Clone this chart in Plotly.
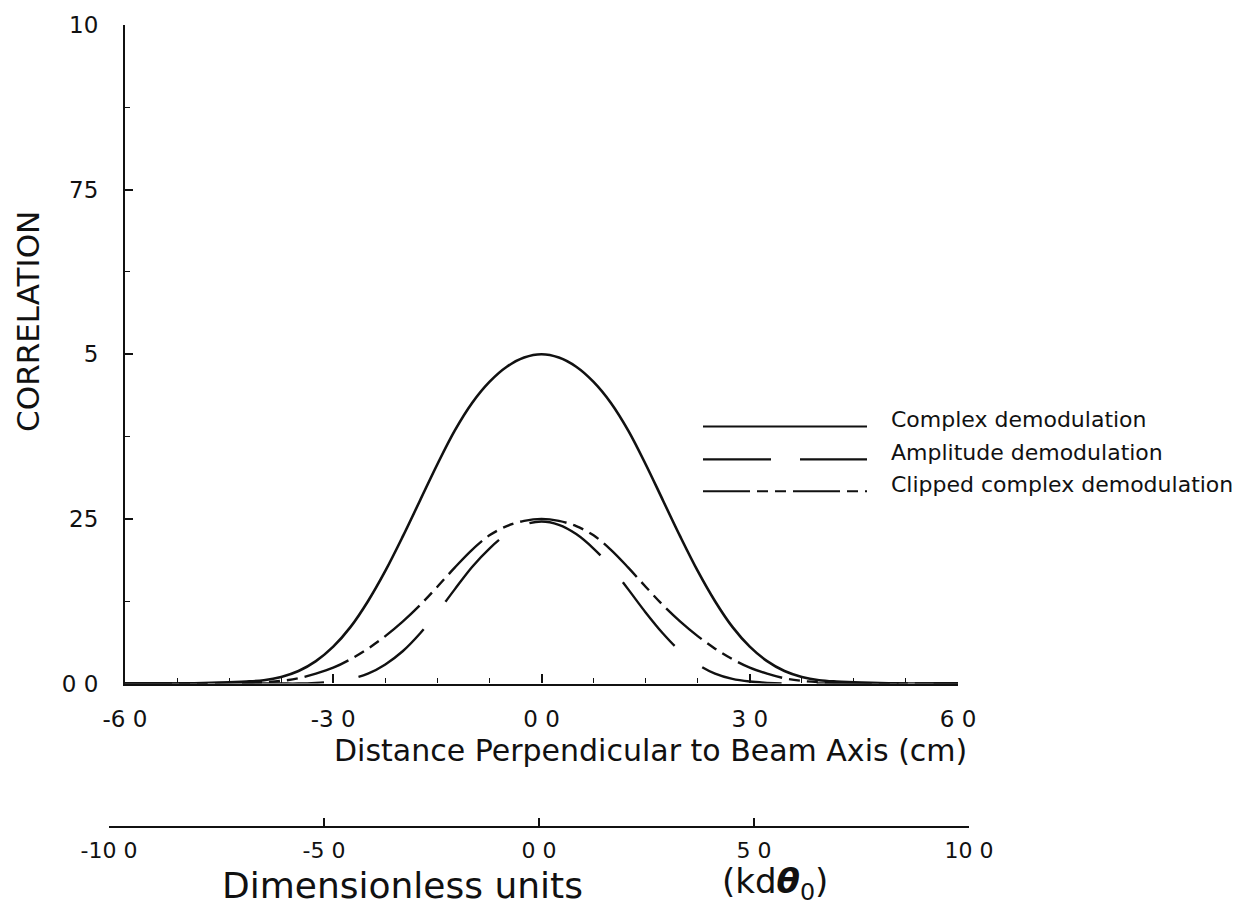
import plotly.graph_objects as go

# ---------------- data ----------------
x_cm = [-6.0, -5.75, -5.5, -5.25, -5.0, -4.75, -4.5, -4.25, -4.0, -3.75, -3.5, -3.25,
        -3.0, -2.75, -2.5, -2.25, -2.0, -1.75, -1.5, -1.25, -1.0, -0.75, -0.5, -0.25,
        0.0, 0.25, 0.5, 0.75, 1.0, 1.25, 1.5, 1.75, 2.0, 2.25, 2.5, 2.75, 3.0, 3.25,
        3.5, 3.75, 4.0, 4.25, 4.5, 4.75, 5.0, 5.25, 5.5, 5.75, 6.0]

complex_demod = [0.0, 0.0, 0.0, 0.0, 0.0005, 0.001, 0.002, 0.003, 0.005, 0.010, 0.019,
                 0.034, 0.056, 0.086, 0.125, 0.171, 0.223, 0.278, 0.333, 0.384, 0.426,
                 0.458, 0.481, 0.495, 0.500, 0.495, 0.481, 0.458, 0.426, 0.384, 0.333,
                 0.278, 0.223, 0.171, 0.125, 0.086, 0.056, 0.034, 0.019, 0.010, 0.005,
                 0.003, 0.002, 0.001, 0.0005, 0.0, 0.0, 0.0, 0.0]

amplitude_demod = [0.0, 0.0, 0.0, 0.0, 0.0, 0.0, 0.0, 0.0, 0.0, 0.0, 0.0, 0.001,
                   0.003, 0.007, 0.015, 0.029, 0.049, 0.076, 0.108, 0.143, 0.177, 0.205,
                   0.227, 0.241, 0.246, 0.241, 0.227, 0.205, 0.177, 0.143, 0.108, 0.076,
                   0.049, 0.029, 0.015, 0.007, 0.003, 0.001, 0.0, 0.0, 0.0, 0.0, 0.0,
                   0.0, 0.0, 0.0, 0.0, 0.0, 0.0]

clipped_demod = [0.0, 0.0, 0.0, 0.0, 0.0, 0.0, 0.0, 0.001, 0.002, 0.004, 0.008, 0.015,
                 0.024, 0.037, 0.053, 0.072, 0.094, 0.119, 0.147, 0.176, 0.203, 0.225,
                 0.239, 0.247, 0.250, 0.247, 0.239, 0.225, 0.203, 0.176, 0.147, 0.119,
                 0.094, 0.072, 0.053, 0.037, 0.024, 0.015, 0.008, 0.004, 0.002, 0.001,
                 0.0, 0.0, 0.0, 0.0, 0.0, 0.0, 0.0]

series_names = ["Complex demodulation", "Amplitude demodulation",
                "Clipped complex demodulation"]

x_ticks = [-6, -3, 0, 3, 6]
x_ticktext = ["-6 0", "-3 0", "0 0", "3 0", "6 0"]
y_ticks = [0, 0.25, 0.5, 0.75, 1.0]
y_ticktext = ["0 0", "25", "5", "75", "10"]
x2_ticks = [-10, -5, 0, 5, 10]
x2_ticktext = ["-10 0", "-5 0", "0 0", "5 0", "10 0"]

# ---------------- styling ----------------
INK = "#111111"
FONT = "DejaVu Sans"
dash_amp = "82px,35px"
dash_amp_key = "68px,29px"
dash_clip = "47px,7px,11px,7px,11px,7px"

W, H = 1255, 907
L_M, R_EDGE = 105, 975
T_M, B_EDGE = 22, 827
PW = R_EDGE - L_M
PH = B_EDGE - T_M


def px(xp):
    return (xp - L_M) / PW


def py(yp):
    return (B_EDGE - yp) / PH


fig = go.Figure()

fig.add_trace(go.Scatter(x=x_cm, y=complex_demod, mode="lines",
                         line=dict(color=INK, width=2.6, shape="spline", smoothing=1.0),
                         name=series_names[0], showlegend=False))
fig.add_trace(go.Scatter(x=x_cm, y=amplitude_demod, mode="lines",
                         line=dict(color=INK, width=2.4, dash=dash_amp, shape="spline",
                                   smoothing=1.0),
                         name=series_names[1], showlegend=False))
fig.add_trace(go.Scatter(x=x_cm, y=clipped_demod, mode="lines",
                         line=dict(color=INK, width=2.4, dash=dash_clip, shape="spline",
                                   smoothing=1.0),
                         name=series_names[2], showlegend=False))
# carrier trace so the secondary (dimensionless) axis is drawn
fig.add_trace(go.Scatter(x=x2_ticks, y=[0.5] * len(x2_ticks), xaxis="x2", yaxis="y2",
                         mode="markers", marker=dict(opacity=0), showlegend=False,
                         hoverinfo="skip"))

tickfont = dict(size=23, family=FONT, color=INK)

fig.update_layout(
    width=W, height=H, autosize=False,
    paper_bgcolor="white", plot_bgcolor="rgba(0,0,0,0)",
    margin=dict(l=L_M, r=W - R_EDGE, t=T_M, b=H - B_EDGE, pad=0),
    font=dict(family=FONT, color=INK, size=20),
    showlegend=False,
    xaxis=dict(domain=[px(125), px(958)], range=[-6, 6], anchor="y",
               tickmode="array", tickvals=x_ticks, ticktext=x_ticktext,
               ticks="inside", ticklen=9, tickwidth=1.6, tickcolor=INK,
               showline=True, linecolor=INK, linewidth=2.4,
               showgrid=False, zeroline=False, tickfont=tickfont,
               ticklabelstandoff=14,
               minor=dict(dtick=0.75, tick0=0, ticks="inside",
                          ticklen=5, tickwidth=1.4, tickcolor=INK, showgrid=False)),
    yaxis=dict(domain=[py(683), 1], range=[0, 1], anchor="x",
               tickmode="array", tickvals=y_ticks, ticktext=y_ticktext,
               ticks="inside", ticklen=8, tickwidth=1.6, tickcolor=INK,
               showline=True, linecolor=INK, linewidth=2.2,
               showgrid=False, zeroline=False, tickfont=tickfont,
               ticklabelstandoff=20,
               minor=dict(dtick=0.125, tick0=0, ticks="inside",
                          ticklen=5, tickwidth=1.4, tickcolor=INK, showgrid=False)),
    xaxis2=dict(domain=[px(109), px(969)], range=[-10, 10], anchor="free", position=0,
                side="bottom",
                tickmode="array", tickvals=x2_ticks, ticktext=x2_ticktext,
                ticks="inside", ticklen=8, tickwidth=1.6, tickcolor=INK,
                showline=True, linecolor=INK, linewidth=1.8,
                showgrid=False, zeroline=False,
                tickfont=dict(size=22, family=FONT, color=INK),
                ticklabelstandoff=4),
    yaxis2=dict(domain=[py(683), 1], range=[0, 1], anchor="x2", overlaying="y",
                visible=False, showgrid=False, zeroline=False),
)

annotations = [
    dict(text="CORRELATION", x=px(28), y=py(320), xref="paper", yref="paper",
         textangle=-90, showarrow=False, font=dict(size=31, family=FONT, color=INK),
         xanchor="center", yanchor="middle"),
    dict(text="Distance Perpendicular to Beam Axis (cm)", x=px(650), y=py(750),
         xref="paper", yref="paper", showarrow=False,
         font=dict(size=30, family=FONT, color=INK), xanchor="center", yanchor="middle"),
    dict(text="Dimensionless units", x=px(402), y=py(886), xref="paper", yref="paper",
         showarrow=False, font=dict(size=36, family=FONT, color=INK),
         xanchor="center", yanchor="middle"),
    dict(text="(kd<b><i>θ</i></b><sub>0</sub>)", x=px(775), y=py(884), xref="paper",
         yref="paper", showarrow=False, font=dict(size=34, family=FONT, color=INK),
         xanchor="center", yanchor="middle"),
]

legend_rows = [425, 458, 490]
legend_dashes = ["solid", dash_amp_key, dash_clip]
shapes = []
for name, yrow, dsh in zip(series_names, legend_rows, legend_dashes):
    shapes.append(dict(type="line", xref="paper", yref="paper",
                       x0=px(703), x1=px(867), y0=py(yrow), y1=py(yrow),
                       line=dict(color=INK, width=2.2, dash=dsh)))
    annotations.append(dict(text=name, x=px(889), y=py(yrow - 7), xref="paper",
                            yref="paper", showarrow=False, xanchor="left",
                            yanchor="middle",
                            font=dict(size=22, family=FONT, color=INK)))

fig.update_layout(annotations=annotations, shapes=shapes)

fig.write_html("out.html")
